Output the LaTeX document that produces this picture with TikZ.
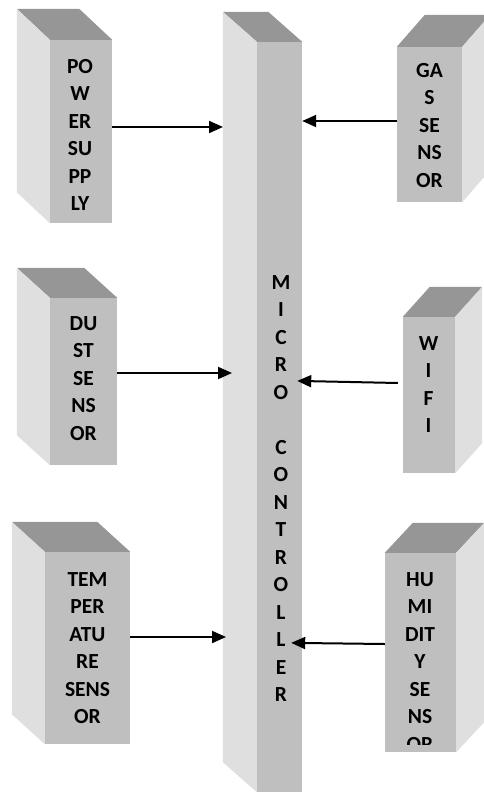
\documentclass[tikz,border=0pt]{standalone}
\usepackage{fontspec}
\setmainfont{Carlito}
\usetikzlibrary{arrows.meta}

\definecolor{facegray}{RGB}{191,191,191}
\definecolor{topgray}{RGB}{150,150,150}
\definecolor{sidegray}{RGB}{223,223,223}

\begin{document}
\begin{tikzpicture}
[
	x=1pt, y=-1pt,
	front/.style={rectangle,fill=facegray,inner sep=0pt},
	topface/.style={fill=topgray},
	sideface/.style={fill=sidegray},
	boxtext/.style={inner sep=0pt,align=center,anchor=north,font=\bfseries\fontsize{21.5}{27.5}\selectfont},
	conn/.style={-{Triangle[length=14pt,width=12pt]},line width=2pt}
]

	\clip (0,0) rectangle (484,792);

	% front faces
	\node[front,minimum width=62pt,minimum height=183pt] (pwr) at (81,131.5) {};
	\node[front,minimum width=67pt,minimum height=167pt] (dust) at (83.5,381.5) {};
	\node[front,minimum width=85pt,minimum height=192pt] (temp) at (87.5,648) {};
	\node[front,minimum width=45pt,minimum height=750pt] (mcu) at (279.5,417) {};
	\node[front,minimum width=65pt,minimum height=155pt] (gas) at (429.5,124.5) {};
	\node[front,minimum width=52pt,minimum height=156pt] (wifi) at (429,395) {};
	\node[front,minimum width=71pt,minimum height=199pt] (hum) at (420.5,652.5) {};

	% top and side faces, seen from the right
	\foreach \b/\dx/\dy in {pwr/-33/-31,dust/-33/-30,temp/-33/-30,mcu/-34/-30} {
		\fill[topface] (\b.north west) -- (\b.north east) -- ++(\dx,\dy)
			-- ([shift={(\dx,\dy)}]\b.north west) -- cycle;
		\fill[sideface] (\b.north west) -- ++(\dx,\dy)
			-- ([shift={(\dx,\dy)}]\b.south west) -- (\b.south west) -- cycle;
	}
	% top and side faces, seen from the left
	\foreach \b/\dx/\dy in {gas/28/-32,wifi/27/-30,hum/28/-30} {
		\fill[topface] (\b.north west) -- (\b.north east) -- ++(\dx,\dy)
			-- ([shift={(\dx,\dy)}]\b.north west) -- cycle;
		\fill[sideface] (\b.north east) -- ++(\dx,\dy)
			-- ([shift={(\dx,\dy)}]\b.south east) -- (\b.south east) -- cycle;
	}

	% texts
	\node[boxtext] (pwrtxt) at (80,59) {PO\\W\\ER\\SU\\PP\\LY};
	\node[boxtext] (dusttxt) at (83.5,316) {DU\\ST\\SE\\NS\\OR};
	\node[boxtext] (temptxt) at (87.5,572) {TEM\\PER\\ATU\\RE\\SENS\\OR};
	\node[boxtext] (mcutxt) at (281,275) {M\\I\\C\\R\\O\\[27.5pt]C\\O\\N\\T\\R\\O\\L\\L\\E\\R};
	\node[boxtext] (gastxt) at (429.5,63) {GA\\S\\SE\\NS\\OR};
	\node[boxtext] (wifitxt) at (428.5,336) {W\\I\\F\\I};
	\begin{scope}
		\clip (hum.north west) rectangle ([yshift=8pt]hum.south east);
		\node[boxtext] (humtxt) at (420,572) {HU\\MI\\DIT\\Y\\SE\\NS\\OR};
	\end{scope}

	% connectors
	\coordinate (mcuside) at (223,0);
	\draw[conn] ([yshift=4.5pt]pwr.east) -- ([yshift=4.5pt]pwr.east -| mcuside);
	\draw[conn,shorten >=-9pt] ([yshift=8.5pt]dust.east) -- ([yshift=8.5pt]dust.east -| mcuside);
	\draw[conn,shorten >=-3pt] ([yshift=11pt]temp.east) -- ([yshift=11pt]temp.east -| mcuside);
	\draw[conn] ([yshift=3.5pt]gas.west) -- ([yshift=3.5pt]gas.west -| mcu.east);
	\draw[conn,shorten >=-5pt] ([xshift=-5pt,yshift=12pt]wifi.west) -- ([yshift=14pt]wifi.west -| mcu.east);
	\draw[conn,shorten >=-11pt] ([yshift=8.5pt]hum.west) -- ([yshift=9.5pt]hum.west -| mcu.east);

\end{tikzpicture}
\end{document}
